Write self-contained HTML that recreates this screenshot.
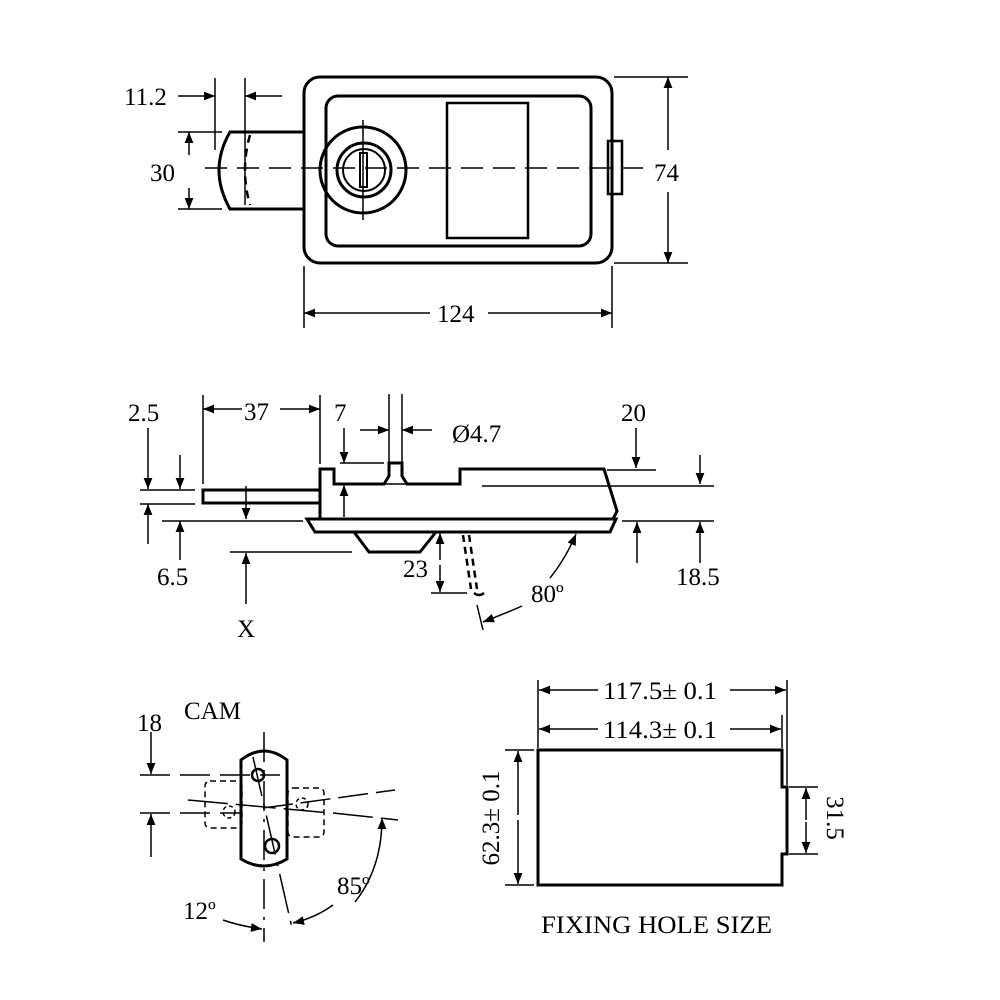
<!DOCTYPE html>
<html><head><meta charset="utf-8"><style>
html,body{margin:0;padding:0;background:#fff}
svg{display:block}
text{font-family:"Liberation Serif",serif;font-size:25px;fill:#000}
</style></head><body>
<svg width="1000" height="1000" viewBox="0 0 1000 1000" xmlns="http://www.w3.org/2000/svg">
<defs>
<marker id="a" viewBox="0 0 10 10" refX="10" refY="5" markerWidth="20" markerHeight="11" markerUnits="userSpaceOnUse" orient="auto"><path d="M0,1 L10,5 L0,9 z" fill="#000"/></marker>
</defs>
<g fill="none" stroke="#000" stroke-width="3">
<rect x="304" y="77" width="308" height="186" rx="16"/>
<rect x="326" y="96" width="265" height="150" rx="12"/>
<rect x="447" y="103" width="81" height="135" stroke-width="2.5"/>
<circle cx="363" cy="170" r="43"/>
<circle cx="364" cy="170" r="27"/>
<circle cx="364" cy="170" r="21" stroke-width="2"/>
<rect x="360" y="153" width="7" height="34" stroke-width="2"/>
<rect x="608" y="141" width="14" height="53" stroke-width="2.5"/>
<path d="M304,132 H230 Q208,170 230,209 H304"/>
</g>
<g fill="none" stroke="#000" stroke-width="1.5">
<path d="M250,135 Q240,170 250,205" stroke-dasharray="8,6" stroke-width="2.5"/>
<line x1="205" y1="168" x2="645" y2="168" stroke-dasharray="22,10"/>
<line x1="363" y1="120" x2="363" y2="220"/>
<line x1="215" y1="78" x2="215" y2="150"/>
<line x1="245" y1="78" x2="245" y2="205"/>
<line x1="178" y1="96" x2="215" y2="96" marker-end="url(#a)"/>
<line x1="282" y1="96" x2="245" y2="96" marker-end="url(#a)"/>
<line x1="178" y1="132" x2="222" y2="132"/>
<line x1="178" y1="209" x2="222" y2="209"/>
<line x1="189" y1="155" x2="189" y2="132" marker-end="url(#a)"/>
<line x1="189" y1="188" x2="189" y2="209" marker-end="url(#a)"/>
<line x1="614" y1="77" x2="688" y2="77"/>
<line x1="614" y1="263" x2="688" y2="263"/>
<line x1="668" y1="150" x2="668" y2="77" marker-end="url(#a)"/>
<line x1="668" y1="192" x2="668" y2="263" marker-end="url(#a)"/>
<line x1="304" y1="266" x2="304" y2="328"/>
<line x1="612" y1="266" x2="612" y2="328"/>
<line x1="430" y1="313" x2="304" y2="313" marker-end="url(#a)"/>
<line x1="488" y1="313" x2="612" y2="313" marker-end="url(#a)"/>
</g>
<text x="124" y="105">11.2</text>
<text x="150" y="181">30</text>
<text x="654" y="181">74</text>
<text x="437" y="322">124</text>

<!-- SIDE VIEW -->
<g fill="none" stroke="#000" stroke-width="3">
<path d="M320,518 V469 H334 V484 H384 L389,476 V463 H402 V476 L407,484 H460 V469 H604 L617,511 L613,519"/>
<path d="M307,519 H616 L610,532 H315 Z"/>
<path d="M354,532 L369,552 H420 L436,532"/>
<rect x="203" y="490" width="117" height="13"/>
</g>
<g fill="none" stroke="#000" stroke-width="1.5">
<line x1="384" y1="484" x2="407" y2="484"/>
<line x1="389" y1="394" x2="389" y2="463"/>
<line x1="402" y1="394" x2="402" y2="463"/>
<line x1="360" y1="430" x2="389" y2="430" marker-end="url(#a)"/>
<line x1="432" y1="430" x2="402" y2="430" marker-end="url(#a)"/>
<line x1="203" y1="395" x2="203" y2="484"/>
<line x1="320" y1="395" x2="320" y2="464"/>
<line x1="242" y1="409" x2="203" y2="409" marker-end="url(#a)"/>
<line x1="280" y1="409" x2="320" y2="409" marker-end="url(#a)"/>
<line x1="344" y1="428" x2="344" y2="463" marker-end="url(#a)"/>
<line x1="340" y1="463" x2="384" y2="463"/>
<line x1="344" y1="517" x2="344" y2="485" marker-end="url(#a)"/>
<line x1="148" y1="428" x2="148" y2="489" marker-end="url(#a)"/>
<line x1="180" y1="455" x2="180" y2="489" marker-end="url(#a)"/>
<line x1="140" y1="490" x2="195" y2="490"/>
<line x1="140" y1="504" x2="195" y2="504"/>
<line x1="148" y1="544" x2="148" y2="504" marker-end="url(#a)"/>
<line x1="180" y1="560" x2="180" y2="521" marker-end="url(#a)"/>
<line x1="162" y1="521" x2="303" y2="521"/>
<line x1="246" y1="486" x2="246" y2="519" marker-end="url(#a)"/>
<line x1="246" y1="604" x2="246" y2="553" marker-end="url(#a)"/>
<line x1="230" y1="552" x2="352" y2="552"/>
<line x1="440" y1="560" x2="440" y2="533" marker-end="url(#a)"/>
<line x1="440" y1="565" x2="440" y2="592" marker-end="url(#a)"/>
<line x1="431" y1="593" x2="467" y2="593"/>
<line x1="463" y1="535" x2="471" y2="589" stroke-dasharray="7,5" stroke-width="2.5"/>
<line x1="469" y1="535" x2="477" y2="589" stroke-dasharray="7,5" stroke-width="2.5"/>
<path d="M474,593 Q479,597 484,593" stroke-width="2.5"/>
<line x1="483" y1="630" x2="477" y2="605"/>
<path d="M522,606 Q504,614 483,622" marker-end="url(#a)"/>
<path d="M550,578 Q566,558 576,534" marker-end="url(#a)"/>
<line x1="636" y1="428" x2="636" y2="468" marker-end="url(#a)"/>
<line x1="607" y1="470" x2="656" y2="470"/>
<line x1="700" y1="455" x2="700" y2="484" marker-end="url(#a)"/>
<line x1="482" y1="486" x2="714" y2="486"/>
<line x1="622" y1="521" x2="714" y2="521"/>
<line x1="637" y1="563" x2="637" y2="522" marker-end="url(#a)"/>
<line x1="700" y1="563" x2="700" y2="522" marker-end="url(#a)"/>
</g>
<text x="128" y="421">2.5</text>
<text x="244" y="420">37</text>
<text x="334" y="421">7</text>
<text x="452" y="442">Ø4.7</text>
<text x="621" y="421">20</text>
<text x="157" y="585">6.5</text>
<text x="237" y="637">X</text>
<text x="403" y="577">23</text>
<text x="531" y="602">80º</text>
<text x="676" y="585">18.5</text>

<!-- CAM -->
<text x="184" y="719">CAM</text>
<text x="137" y="731">18</text>
<g fill="none" stroke="#000" stroke-width="3">
<path d="M241,760 Q264,742 287,760 V859 Q264,873 241,859 Z"/>
<circle cx="258" cy="775" r="6" stroke-width="2.5"/>
<circle cx="272" cy="846" r="7" stroke-width="2.5"/>
</g>
<g fill="none" stroke="#000" stroke-width="1.5">
<rect x="205" y="781" width="37" height="47" rx="5" stroke-dasharray="6,4"/>
<rect x="288" y="788" width="36" height="49" rx="5" stroke-dasharray="6,4"/>
<circle cx="229" cy="812" r="6" stroke-dasharray="4,3"/>
<circle cx="302" cy="804" r="6" stroke-dasharray="4,3"/>
<line x1="264" y1="732" x2="264" y2="942" stroke-dasharray="30,8,3,8"/>
<line x1="253" y1="757" x2="292" y2="928" stroke-dasharray="40,8,4,8"/>
<line x1="140" y1="775" x2="280" y2="775" stroke-dasharray="30,10"/>
<line x1="140" y1="813" x2="240" y2="813" stroke-dasharray="30,10"/>
<line x1="188" y1="800" x2="330" y2="813" stroke-dasharray="40,8"/>
<line x1="263" y1="808" x2="395" y2="790" stroke-dasharray="30,8"/>
<line x1="333" y1="813" x2="398" y2="820" stroke-dasharray="40,8"/>
<line x1="151" y1="732" x2="151" y2="774" marker-end="url(#a)"/>
<line x1="151" y1="857" x2="151" y2="814" marker-end="url(#a)"/>
<path d="M355,902 Q382,868 382,818" marker-end="url(#a)"/>
<path d="M333,905 Q315,918 293,923" marker-end="url(#a)"/>
<path d="M223,920 Q240,926 262,929" marker-end="url(#a)"/>
</g>
<text x="337" y="894">85º</text>
<text x="183" y="919">12º</text>

<!-- FIXING HOLE -->
<g fill="none" stroke="#000" stroke-width="3">
<path d="M538,750 H782 V787 H787 V854 H782 V885 H538 Z"/>
</g>
<g fill="none" stroke="#000" stroke-width="1.5">
<line x1="538" y1="680" x2="538" y2="748"/>
<line x1="787" y1="680" x2="787" y2="785"/>
<line x1="782" y1="715" x2="782" y2="748"/>
<line x1="598" y1="690" x2="539" y2="690" marker-end="url(#a)"/>
<line x1="730" y1="690" x2="786" y2="690" marker-end="url(#a)"/>
<line x1="598" y1="729" x2="539" y2="729" marker-end="url(#a)"/>
<line x1="730" y1="729" x2="781" y2="729" marker-end="url(#a)"/>
<line x1="505" y1="750" x2="534" y2="750"/>
<line x1="505" y1="885" x2="534" y2="885"/>
<line x1="518" y1="815" x2="518" y2="751" marker-end="url(#a)"/>
<line x1="518" y1="820" x2="518" y2="884" marker-end="url(#a)"/>
<line x1="789" y1="787" x2="818" y2="787"/>
<line x1="789" y1="854" x2="818" y2="854"/>
<line x1="806" y1="820" x2="806" y2="788" marker-end="url(#a)"/>
<line x1="806" y1="822" x2="806" y2="853" marker-end="url(#a)"/>
</g>
<text x="603" y="699" textLength="114" lengthAdjust="spacingAndGlyphs">117.5± 0.1</text>
<text x="603" y="738" textLength="114" lengthAdjust="spacingAndGlyphs">114.3± 0.1</text>
<text transform="translate(499,818) rotate(-90)" text-anchor="middle">62.3± 0.1</text>
<text transform="translate(827,818) rotate(90)" text-anchor="middle">31.5</text>
<text x="541" y="933" textLength="231" lengthAdjust="spacingAndGlyphs">FIXING HOLE SIZE</text>
</svg>
</body></html>
